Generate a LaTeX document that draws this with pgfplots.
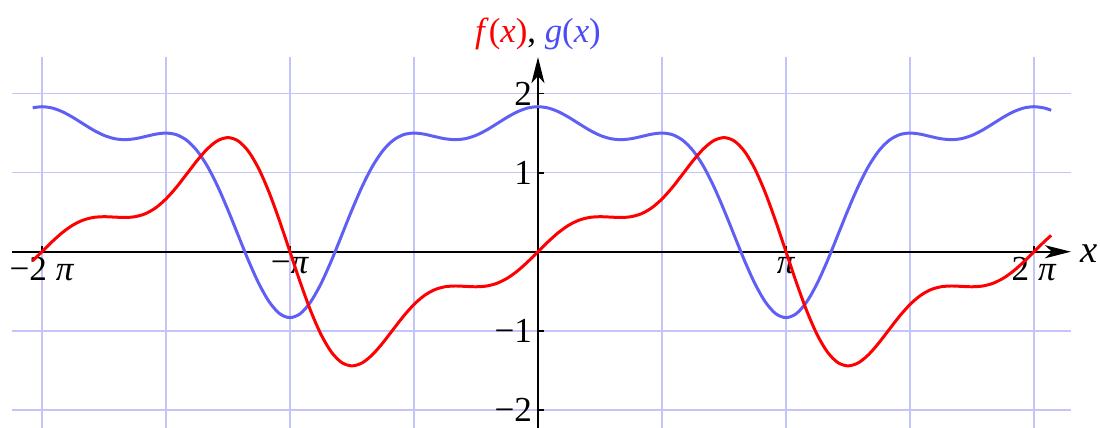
\documentclass[border=0pt]{standalone}
\usepackage{fontspec}
\setmainfont{Liberation Serif}
\usepackage{pgfplots}
\usepackage{pgfplotstable}
\pgfplotsset{compat=1.18}
\usetikzlibrary{arrows.meta}

\definecolor{fred}{rgb}{1,0,0}
\definecolor{gblue}{RGB}{95,95,245}
\definecolor{gridblue}{RGB}{196,196,250}

% x in units of pi, f = red curve, g = blue curve
\pgfplotstableread{
x        f        g
-2.0372  -0.1153  1.8189
-2.0000   0.0000  1.8333
-1.9583   0.1287  1.8164
-1.9167   0.2445  1.7686
-1.8750   0.3371  1.6979
-1.8333   0.4003  1.6160
-1.7917   0.4338  1.5364
-1.7500   0.4428  1.4714
-1.7083   0.4380  1.4302
-1.6667   0.4330  1.4167
-1.6250   0.4428  1.4283
-1.5833   0.4802  1.4561
-1.5417   0.5541  1.4859
-1.5000   0.6667  1.5000
-1.4583   0.8129  1.4800
-1.4167   0.9802  1.4099
-1.3750   1.1499  1.2788
-1.3333   1.2990  1.0833
-1.2917   1.4039  0.8286
-1.2500   1.4428  0.5286
-1.2083   1.3997  0.2048
-1.1667   1.2663 -0.1160
-1.1250   1.0442 -0.4050
-1.0833   0.7445 -0.6346
-1.0417   0.3875 -0.7824
-1.0000   0.0000 -0.8333
-0.9583  -0.3875 -0.7824
-0.9167  -0.7445 -0.6346
-0.8750  -1.0442 -0.4050
-0.8333  -1.2663 -0.1160
-0.7917  -1.3997  0.2048
-0.7500  -1.4428  0.5286
-0.7083  -1.4039  0.8286
-0.6667  -1.2990  1.0833
-0.6250  -1.1499  1.2788
-0.5833  -0.9802  1.4099
-0.5417  -0.8129  1.4800
-0.5000  -0.6667  1.5000
-0.4583  -0.5541  1.4859
-0.4167  -0.4802  1.4561
-0.3750  -0.4428  1.4283
-0.3333  -0.4330  1.4167
-0.2917  -0.4380  1.4302
-0.2500  -0.4428  1.4714
-0.2083  -0.4338  1.5364
-0.1667  -0.4003  1.6160
-0.1250  -0.3371  1.6979
-0.0833  -0.2445  1.7686
-0.0417  -0.1287  1.8164
 0.0000   0.0000  1.8333
 0.0417   0.1287  1.8164
 0.0833   0.2445  1.7686
 0.1250   0.3371  1.6979
 0.1667   0.4003  1.6160
 0.2083   0.4338  1.5364
 0.2500   0.4428  1.4714
 0.2917   0.4380  1.4302
 0.3333   0.4330  1.4167
 0.3750   0.4428  1.4283
 0.4167   0.4802  1.4561
 0.4583   0.5541  1.4859
 0.5000   0.6667  1.5000
 0.5417   0.8129  1.4800
 0.5833   0.9802  1.4099
 0.6250   1.1499  1.2788
 0.6667   1.2990  1.0833
 0.7083   1.4039  0.8286
 0.7500   1.4428  0.5286
 0.7917   1.3997  0.2048
 0.8333   1.2663 -0.1160
 0.8750   1.0442 -0.4050
 0.9167   0.7445 -0.6346
 0.9583   0.3875 -0.7824
 1.0000   0.0000 -0.8333
 1.0417  -0.3875 -0.7824
 1.0833  -0.7445 -0.6346
 1.1250  -1.0442 -0.4050
 1.1667  -1.2663 -0.1160
 1.2083  -1.3997  0.2048
 1.2500  -1.4428  0.5286
 1.2917  -1.4039  0.8286
 1.3333  -1.2990  1.0833
 1.3750  -1.1499  1.2788
 1.4167  -0.9802  1.4099
 1.4583  -0.8129  1.4800
 1.5000  -0.6667  1.5000
 1.5417  -0.5541  1.4859
 1.5833  -0.4802  1.4561
 1.6250  -0.4428  1.4283
 1.6667  -0.4330  1.4167
 1.7083  -0.4380  1.4302
 1.7500  -0.4428  1.4714
 1.7917  -0.4338  1.5364
 1.8333  -0.4003  1.6160
 1.8750  -0.3371  1.6979
 1.9167  -0.2445  1.7686
 1.9583  -0.1287  1.8164
 2.0000   0.0000  1.8333
 2.0417   0.1287  1.8164
 2.0690   0.2069  1.7882
}\curves

\begin{document}
\fontsize{10}{12}\selectfont
\begin{tikzpicture}
\begin{axis}[
    x=2.48cm, y=0.791cm,
    xmin=-2.121, xmax=2.149,
    ymin=-2.228, ymax=2.46,
    axis lines=middle,
    axis line style={black, line width=0.5pt, -{Stealth[length=2.6mm, width=1.3mm, inset=0.7mm]}},
    clip=false,
    xtick={-2,-1,1,2},
    xticklabels={−2 \textit{π}, −\textit{π}, \textit{π}, 2 \textit{π}},
    minor xtick={-1.5,-0.5,0.5,1.5},
    ytick={-2,-1,1,2},
    yticklabels={−2, −1, 1, 2},
    tick align=inside,
    major tick length=0.6mm,
    minor tick length=0pt,
    tick style={black, line width=0.5pt},
    grid=both,
    major grid style={gridblue, line width=0.45pt},
    minor grid style={gridblue, line width=0.45pt},
    xticklabel style={inner sep=1.5pt},
    yticklabel style={inner sep=1.5pt},
]
\addplot[gblue, line width=0.85pt, smooth] table[x=x, y=g] {\curves};
\addplot[fred, line width=0.85pt, smooth] table[x=x, y=f] {\curves};
\node[anchor=west, inner sep=1pt] at (axis cs:2.17,-0.02) {\fontsize{11}{12}\selectfont\textit{x}};
\node[anchor=base, inner sep=0pt] at (axis cs:0,2.642) {\fontsize{9.9}{12}\selectfont\textcolor{fred}{\textit{f}(\textit{x})}, \textcolor{gblue!80!blue}{\textit{g}(\textit{x})}};
\coordinate (bbsw) at (axis cs:-2.169,-2.228);
\coordinate (bbne) at (axis cs:2.266,3.182);
\end{axis}
\pgfresetboundingbox
\path[use as bounding box] (bbsw) rectangle (bbne);
\end{tikzpicture}
\end{document}
